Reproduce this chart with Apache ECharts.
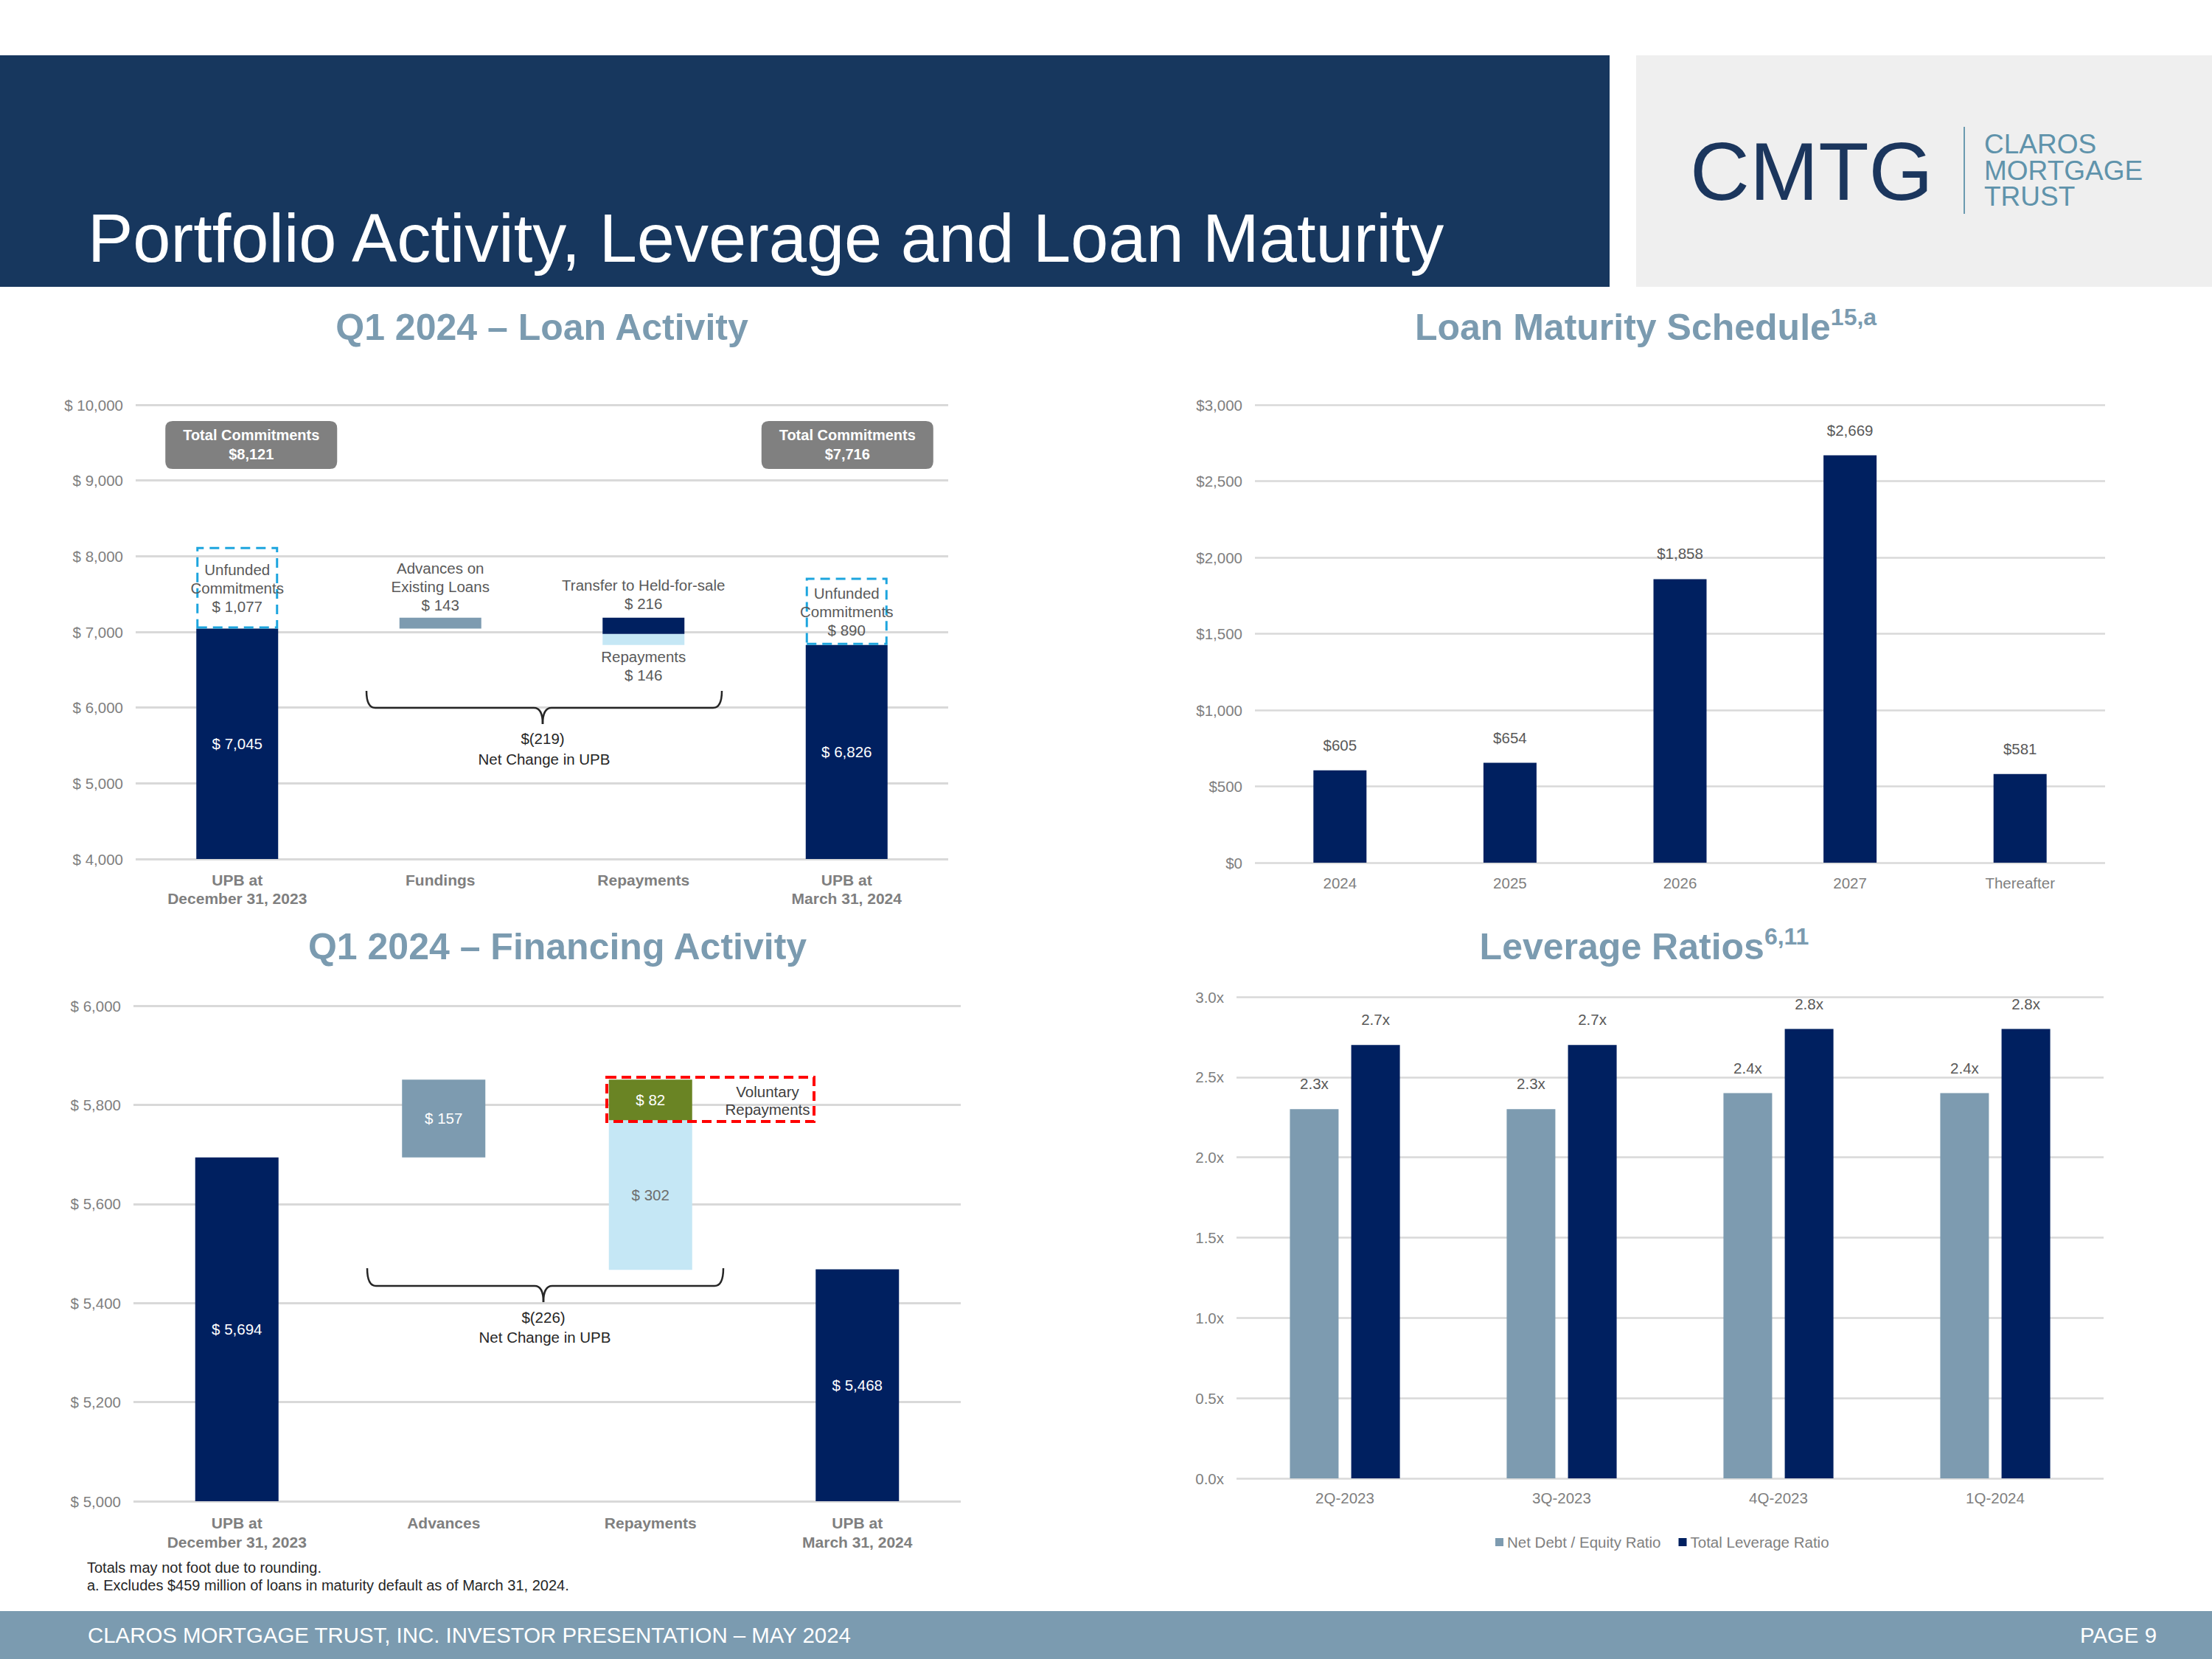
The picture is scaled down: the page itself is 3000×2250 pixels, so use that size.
<!DOCTYPE html>
<html>
<head>
<meta charset="utf-8">
<script src="https://cdn.jsdelivr.net/npm/echarts@6.0.0/dist/echarts.min.js"></script>
<style>
html,body{margin:0;padding:0;background:#ffffff;}
#chart{width:3000px;height:2250px;}
</style>
</head>
<body>
<div id="chart"></div>
<script>
// ---------------- DATA ----------------
// Q1 2024 – Loan Activity ($ millions)
const activityCategories = ['UPB at\nDecember 31, 2023', 'Fundings', 'Repayments', 'UPB at\nMarch 31, 2024'];
const activityUPB = [7045, 6826];              // UPB at start / end
const activityUnfunded = [1077, 890];          // unfunded commitments at start / end
const activityTotalCommitments = [8121, 7716]; // total commitments at start / end
const activityAdvances = 143;                  // advances on existing loans
const activityTransferHFS = 216;               // transfer to held-for-sale
const activityRepayments = 146;                // repayments
const activityNetChange = -219;
const activityTicks = [4000, 10000, 1000];     // min, max, interval

// Q1 2024 – Financing Activity ($ millions)
const financingCategories = ['UPB at\nDecember 31, 2023', 'Advances', 'Repayments', 'UPB at\nMarch 31, 2024'];
const financingUPB = [5694, 5468];
const financingAdvances = 157;
const financingVoluntary = 82;
const financingRepayments = 302;
const financingNetChange = -226;
const financingTicks = [5000, 6000, 200];

// Loan Maturity Schedule ($ millions)
const maturityCategories = ['2024', '2025', '2026', '2027', 'Thereafter'];
const maturityValues = [605, 654, 1858, 2669, 581];
const maturityTicks = [0, 3000, 500];

// Leverage Ratios
const leverageCategories = ['2Q-2023', '3Q-2023', '4Q-2023', '1Q-2024'];
const netDebtEquity = [2.3, 2.3, 2.4, 2.4];
const totalLeverage = [2.7, 2.7, 2.8, 2.8];
const leverageTicks = [0, 3, 0.5];
const leverageNames = ['Net Debt / Equity Ratio', 'Total Leverage Ratio'];

// ---------------- STYLE ----------------
const FONT = "'Liberation Sans', Arial, Helvetica, sans-serif";
const NAVY = '#002060';
const STEEL = '#7D9BB0';
const LIGHT = '#C5E7F5';
const GREEN = '#6A8424';
const CYAN = '#1DA5DE';
const GRIDC = '#D9D9D9';
const AXT = '#7F7F7F';
const DTXT = '#595959';
const TITLEC = '#7B9BB0';
const HEADER = '#17375E';
const D = '-';

const fmt = v => Number(v).toLocaleString('en-US');
const money = v => '$ ' + fmt(v);
const neg = v => '$(' + fmt(Math.abs(v)) + ')';

// waterfall bases derived from the data
const actFundBase = activityUPB[0];
const actRepayBase = activityUPB[0] + activityAdvances - activityTransferHFS - activityRepayments;
const finAdvBase = financingUPB[0];
const finRepayBase = financingUPB[0] + financingAdvances - financingVoluntary - financingRepayments;

function yAxis(grid, ticks, formatter, lw) {
  return {
    type: 'value', gridIndex: grid, min: ticks[0], max: ticks[1], interval: ticks[2],
    axisLine: {show: false}, axisTick: {show: false},
    splitLine: {show: true, lineStyle: {color: GRIDC, width: lw}},
    axisLabel: {color: AXT, fontSize: 20.5, fontFamily: FONT, margin: 17, formatter: formatter}
  };
}
function xAxis(grid, cats, bold, margin, lh) {
  return {
    type: 'category', gridIndex: grid, data: cats,
    axisLine: {show: false}, axisTick: {show: false}, splitLine: {show: false},
    axisLabel: {color: AXT, fontSize: bold ? 21 : 20.5, fontWeight: bold ? 'bold' : 'normal',
      fontFamily: FONT, margin: margin, lineHeight: lh, interval: 0}
  };
}
function lbl(extra) {
  return Object.assign({show: true, fontSize: 20.5, fontFamily: FONT, lineHeight: 25}, extra);
}

function txt(text, x, y, size, color, opts) {
  opts = opts || {};
  return {
    type: 'text', x: x, y: y, z: 100, silent: true,
    style: {
      text: text, fill: color,
      font: (opts.weight || 'normal') + ' ' + size + 'px ' + (opts.family || FONT),
      textAlign: opts.align || 'left', textVerticalAlign: opts.valign || 'middle',
      lineHeight: opts.lineHeight || undefined
    }
  };
}
function brace(x1, x2, xc, y0, y1, y2) {
  const st = {stroke: '#262626', lineWidth: 2.5, fill: 'none'};
  const r = 12;
  return [
    {type: 'bezierCurve', shape: {x1: x1, y1: y0, cpx1: x1, cpy1: y1, x2: x1 + r, y2: y1}, style: st, z: 100},
    {type: 'line', shape: {x1: x1 + r, y1: y1, x2: xc - r, y2: y1}, style: st, z: 100},
    {type: 'bezierCurve', shape: {x1: xc - r, y1: y1, cpx1: xc, cpy1: y1, x2: xc, y2: y2}, style: st, z: 100},
    {type: 'bezierCurve', shape: {x1: xc, y1: y2, cpx1: xc, cpy1: y1, x2: xc + r, y2: y1}, style: st, z: 100},
    {type: 'line', shape: {x1: xc + r, y1: y1, x2: x2 - r, y2: y1}, style: st, z: 100},
    {type: 'bezierCurve', shape: {x1: x2 - r, y1: y1, cpx1: x2, cpy1: y1, x2: x2, y2: y0}, style: st, z: 100}
  ];
}
function richTitle(main, sup, x, y) {
  return {
    type: 'text', x: x, y: y, z: 100, silent: true,
    style: {
      text: sup ? '{m|' + main + '}{s|' + sup + '}' : '{m|' + main + '}',
      textAlign: 'center', textVerticalAlign: 'middle',
      rich: {
        m: {fontSize: 50, fontWeight: 'bold', fontFamily: FONT, fill: TITLEC, lineHeight: 60},
        s: {fontSize: 32, fontWeight: 'bold', fontFamily: FONT, fill: TITLEC, lineHeight: 46, verticalAlign: 'top'}
      }
    }
  };
}

const graphics = [
  // header band
  {type: 'rect', shape: {x: 0, y: 75, width: 2183, height: 314}, style: {fill: HEADER}, z: 1, silent: true},
  {type: 'rect', shape: {x: 2219, y: 75, width: 781, height: 314}, style: {fill: '#EFEFEF'}, z: 1, silent: true},
  txt('Portfolio Activity, Leverage and Loan Maturity', 119, 323, 92, '#FFFFFF'),
  // logo
  txt('CMTG', 2292, 232, 112, '#1B365D'),
  {type: 'line', shape: {x1: 2664, y1: 172, x2: 2664, y2: 290}, style: {stroke: '#6B9AB0', lineWidth: 2}, z: 100, silent: true},
  txt('CLAROS\nMORTGAGE\nTRUST', 2691, 231, 37, '#5F93AB', {lineHeight: 35.5}),
  // footer
  {type: 'rect', shape: {x: 0, y: 2185, width: 3000, height: 65}, style: {fill: '#7B9BB0'}, z: 1, silent: true},
  txt('CLAROS MORTGAGE TRUST, INC. INVESTOR PRESENTATION \u2013 MAY 2024', 119, 2217, 29.4, '#FFFFFF'),
  txt('PAGE 9', 2925, 2217, 29.4, '#FFFFFF', {align: 'right'}),
  // chart titles
  richTitle('Q1 2024 \u2013 Loan Activity', null, 735, 444),
  richTitle('Q1 2024 \u2013 Financing Activity', null, 756, 1284),
  richTitle('Loan Maturity Schedule', '15,a', 2232, 444),
  richTitle('Leverage Ratios', '6,11', 2230, 1284),
  // net change braces
  ...brace(497, 979, 736, 937, 960, 982),
  txt(neg(activityNetChange), 736, 1001, 20.5, '#262626', {align: 'center'}),
  txt('Net Change in UPB', 738, 1029, 20.5, '#262626', {align: 'center'}),
  ...brace(498, 981, 737, 1720, 1744, 1766),
  txt(neg(financingNetChange), 737, 1786, 20.5, '#262626', {align: 'center'}),
  txt('Net Change in UPB', 739, 1813, 20.5, '#262626', {align: 'center'}),
  // voluntary repayments callout
  {type: 'rect', shape: {x: 823, y: 1461, width: 281, height: 60},
   style: {fill: 'none', stroke: '#FF0000', lineWidth: 4, lineDash: [13, 7]}, z: 100, silent: true},
  txt('Voluntary\nRepayments', 1041, 1492, 20.5, '#404040', {align: 'center', lineHeight: 24}),
  // footnotes
  txt('Totals may not foot due to rounding.', 118, 2126, 20, '#262626'),
  txt('a. Excludes $459 million of loans in maturity default as of March 31, 2024.', 118, 2150, 20, '#262626')
];

const BOX_PATH = 'path://M10,0 L223,0 Q233,0 233,10 L233,55 Q233,65 223,65 L10,65 Q0,65 0,55 L0,10 Q0,0 10,0 Z';

const option = {
  animation: false,
  backgroundColor: '#FFFFFF',
  textStyle: {fontFamily: FONT},
  grid: [
    {left: 184, top: 549, width: 1102, height: 616, containLabel: false},
    {left: 181, top: 1364, width: 1122, height: 672, containLabel: false},
    {left: 1702, top: 549, width: 1153, height: 621, containLabel: false},
    {left: 1677, top: 1352, width: 1176, height: 653, containLabel: false}
  ],
  xAxis: [
    xAxis(0, activityCategories, true, 16, 25),
    xAxis(1, financingCategories, true, 16, 26),
    xAxis(2, maturityCategories, false, 15, 24),
    xAxis(3, leverageCategories, false, 14, 24)
  ],
  yAxis: [
    yAxis(0, activityTicks, v => money(v), 3),
    yAxis(1, financingTicks, v => money(v), 3),
    yAxis(2, maturityTicks, v => '$' + fmt(v), 2.5),
    yAxis(3, leverageTicks, v => v.toFixed(1) + 'x', 2.5)
  ],
  legend: {
    show: true, data: leverageNames, left: 2023, top: 2076,
    icon: 'rect', itemWidth: 11, itemHeight: 11, itemGap: 24, selectedMode: false,
    textStyle: {color: AXT, fontSize: 20.5, fontFamily: FONT}
  },
  graphic: {elements: graphics},
  series: [
    // ----- Loan activity waterfall -----
    {name: 'actBase', type: 'bar', xAxisIndex: 0, yAxisIndex: 0, stack: 'act', barWidth: 111, silent: true,
     itemStyle: {color: 'rgba(0,0,0,0)'}, data: [D, actFundBase, actRepayBase, D]},
    {name: 'actUPB', type: 'bar', xAxisIndex: 0, yAxisIndex: 0, stack: 'act', barWidth: 111,
     itemStyle: {color: NAVY}, data: [activityUPB[0], D, D, activityUPB[1]],
     label: lbl({position: 'inside', color: '#FFFFFF', formatter: p => money(p.value)})},
    {name: 'actRepay', type: 'bar', xAxisIndex: 0, yAxisIndex: 0, stack: 'act', barWidth: 111,
     itemStyle: {color: LIGHT}, data: [D, D, activityRepayments, D],
     label: lbl({position: 'bottom', distance: 3, color: DTXT, formatter: p => 'Repayments\n' + money(p.value)})},
    {name: 'actTransfer', type: 'bar', xAxisIndex: 0, yAxisIndex: 0, stack: 'act', barWidth: 111,
     itemStyle: {color: NAVY}, data: [D, D, activityTransferHFS, D],
     label: lbl({position: 'top', distance: 7, color: DTXT, formatter: p => 'Transfer to Held-for-sale\n' + money(p.value)})},
    {name: 'actAdv', type: 'bar', xAxisIndex: 0, yAxisIndex: 0, stack: 'act', barWidth: 111,
     itemStyle: {color: STEEL}, data: [D, activityAdvances, D, D],
     label: lbl({position: 'top', distance: 5, color: DTXT, formatter: p => 'Advances on\nExisting Loans\n' + money(p.value)})},
    {name: 'actUnfunded', type: 'bar', xAxisIndex: 0, yAxisIndex: 0, stack: 'act', barWidth: 111,
     itemStyle: {color: 'rgba(0,0,0,0)', borderColor: CYAN, borderWidth: 3, borderType: [13, 8]},
     data: [activityUnfunded[0], D, D, activityUnfunded[1]],
     label: lbl({position: 'inside', color: DTXT, formatter: p => 'Unfunded\nCommitments\n' + money(p.value)}),
     markPoint: {
       symbol: BOX_PATH, symbolSize: [233, 65], symbolKeepAspect: false, silent: true,
       itemStyle: {color: '#808080'},
       label: {show: true, position: 'inside', color: '#FFFFFF', fontWeight: 'bold', fontSize: 20,
               lineHeight: 26, fontFamily: FONT, formatter: p => 'Total Commitments\n$' + fmt(p.value)},
       data: [
         {coord: [0, 9470], value: activityTotalCommitments[0], symbolOffset: [19, 0]},
         {coord: [3, 9470], value: activityTotalCommitments[1], symbolOffset: [1, 0]}
       ]
     }},
    // ----- Financing activity waterfall -----
    {name: 'finBase', type: 'bar', xAxisIndex: 1, yAxisIndex: 1, stack: 'fin', barWidth: 113, silent: true,
     itemStyle: {color: 'rgba(0,0,0,0)'}, data: [D, finAdvBase, finRepayBase, D]},
    {name: 'finUPB', type: 'bar', xAxisIndex: 1, yAxisIndex: 1, stack: 'fin', barWidth: 113,
     itemStyle: {color: NAVY}, data: [financingUPB[0], D, D, financingUPB[1]],
     label: lbl({position: 'inside', color: '#FFFFFF', formatter: p => money(p.value)})},
    {name: 'finRepay', type: 'bar', xAxisIndex: 1, yAxisIndex: 1, stack: 'fin', barWidth: 113,
     itemStyle: {color: LIGHT}, data: [D, D, financingRepayments, D],
     label: lbl({position: 'inside', color: '#6E6E6E', formatter: p => money(p.value)})},
    {name: 'finVoluntary', type: 'bar', xAxisIndex: 1, yAxisIndex: 1, stack: 'fin', barWidth: 113,
     itemStyle: {color: GREEN}, data: [D, D, financingVoluntary, D],
     label: lbl({position: 'inside', color: '#FFFFFF', formatter: p => money(p.value)})},
    {name: 'finAdv', type: 'bar', xAxisIndex: 1, yAxisIndex: 1, stack: 'fin', barWidth: 113,
     itemStyle: {color: STEEL}, data: [D, financingAdvances, D, D],
     label: lbl({position: 'inside', color: '#FFFFFF', formatter: p => money(p.value)})},
    // ----- Loan maturity -----
    {name: 'maturity', type: 'bar', xAxisIndex: 2, yAxisIndex: 2, barWidth: 72,
     itemStyle: {color: NAVY}, data: maturityValues,
     label: lbl({position: 'top', distance: 22, color: DTXT, formatter: p => '$' + fmt(p.value)})},
    // ----- Leverage -----
    {name: leverageNames[0], type: 'bar', xAxisIndex: 3, yAxisIndex: 3, barWidth: 66, barGap: '26%',
     itemStyle: {color: STEEL}, data: netDebtEquity,
     label: lbl({position: 'top', distance: 22, color: DTXT, formatter: p => p.value.toFixed(1) + 'x'})},
    {name: leverageNames[1], type: 'bar', xAxisIndex: 3, yAxisIndex: 3, barWidth: 66, barGap: '26%',
     itemStyle: {color: NAVY}, data: totalLeverage,
     label: lbl({position: 'top', distance: 22, color: DTXT, formatter: p => p.value.toFixed(1) + 'x'})}
  ]
};

const chart = echarts.init(document.getElementById('chart'), null, {renderer: 'svg', width: 3000, height: 2250});
chart.setOption(option);
</script>
</body>
</html>
